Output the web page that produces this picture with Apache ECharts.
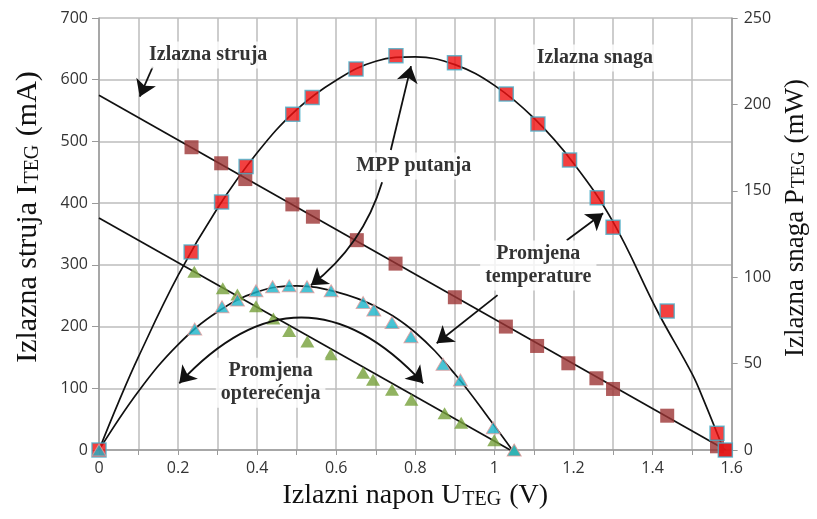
<!DOCTYPE html>
<html><head><meta charset="utf-8">
<script src="https://cdn.jsdelivr.net/npm/echarts@6/dist/echarts.min.js"></script>
<style>html,body{margin:0;padding:0;background:#fff}#c{width:817px;height:519px}</style>
</head><body><div id="c"></div><script>
// ---- data ----
// Output power, main case (right axis, mW) — red squares
const powerPts = [[0,0],[0.233,114.6],[0.31,143.5],[0.372,164],[0.49,194.3],[0.539,204],[0.65,220.5],[0.751,228.2],[0.899,224.1],[1.03,206],[1.11,188.7],[1.19,167.8],[1.26,146],[1.30,128.9],[1.437,80.4],[1.563,9.7],[1.584,0]];
// Fitted power curve (right axis, mW)
const powerFit = [[0,0],[0.05,28],[0.1,54],[0.2,101],[0.3,140],[0.4,172],[0.5,197],[0.6,214],[0.7,225],[0.8,227.5],[0.9,223],[1.0,211],[1.1,192],[1.2,166],[1.3,132],[1.413,80],[1.5,44],[1.529,29],[1.58,0]];
// Output current, main case (left axis, mA) — dark red squares
const currentPts = [[0.234,490.6],[0.309,464.6],[0.37,439],[0.489,398],[0.541,378],[0.652,340],[0.75,302],[0.9,247.5],[1.029,200],[1.108,168.6],[1.187,140.5],[1.258,116.2],[1.30,98.9],[1.437,55.6],[1.563,6],[1.584,0]];
const currentFit = [[0,575],[1.585,0]];
// Lower temperature case: current (left axis, mA) — green triangles
const current2Pts = [[0.241,289],[0.313,262],[0.35,252],[0.397,233],[0.441,213],[0.481,193],[0.527,176],[0.586,155],[0.668,125],[0.693,114],[0.741,97.5],[0.79,81.5],[0.874,59.4],[0.916,44],[0.9995,16],[1.05,0]];
const current2Fit = [[0,376],[1.04,0]];
// Lower temperature case: power (right axis, mW) — cyan triangles
const power2Pts = [[0,0],[0.242,70],[0.311,82.9],[0.35,86.8],[0.397,92.2],[0.439,94.5],[0.481,95.1],[0.526,94.5],[0.587,92.2],[0.668,85.3],[0.695,81],[0.741,73.7],[0.789,65.5],[0.87,49.6],[0.914,40.5],[0.997,12.9],[1.05,0]];
const power2Fit = [[0,0],[0.1,34],[0.2,61],[0.3,80],[0.4,91.5],[0.5,95],[0.6,91.5],[0.7,83],[0.8,68],[0.9,44],[1.0,14],[1.045,0]];

// tick settings
const xMin = 0, xMax = 1.6, xStep = 0.1;
const yLeftMin = 0, yLeftMax = 700, yLeftStep = 100;
const yRightMin = 0, yRightMax = 250, yRightStep = 50;

// annotation texts
const noteTexts = ['Izlazna struja', 'Izlazna snaga', 'MPP putanja', 'Promjena\ntemperature', 'Promjena\nopterećenja'];
</script>
<script>
// annotation anchors (left-axis data coordinates)
const notePos = [[0.276,640],[1.254,635],[0.796,460],[1.111,299],[0.434,109]];
const arrows = [
  {from:[0.136,621], to:[0.103,572.5], c:0},
  {from:[0.738,486], to:[0.789,622], c:0},
  {from:[0.716,434], to:[0.536,267], c:0.16},
  {from:[1.183,340], to:[1.275,383.6], c:0},
  {from:[1.008,251], to:[0.854,173], c:0}
];
const arcArrow = {from:[0.203,108], to:[0.820,108], c:0.54};

const chart = echarts.init(document.getElementById('c'), null, {renderer:'canvas'});
const serif = 'Liberation Serif';
const sans = 'Open Sans';
const gridColor = '#bcbcbc';
const axisColor = '#9a9a9a';
const lineBlack = '#111111';

function titleRich(size, sub) {
  return {
    fontFamily: serif, fontSize: size, color: '#111',
    rich: { s: { fontFamily: serif, fontSize: sub, color:'#111', verticalAlign:'bottom', padding:[0,1,0,1] } }
  };
}

const option = {
  animation: false,
  backgroundColor: '#fff',
  grid: { left: 99, right: 79, top: 18, bottom: 69, containLabel: false },
  xAxis: {
    type: 'value', min: xMin, max: xMax, interval: xStep,
    name: 'Izlazni napon U{s|TEG} (V)', nameLocation: 'middle', nameGap: 32,
    nameTextStyle: titleRich(28, 20),
    axisLine: { show: true, onZero: false, lineStyle: { color: axisColor, width: 1.5 } },
    axisTick: { show: true, length: 5, lineStyle: { color: axisColor } },
    axisLabel: {
      fontFamily: sans, fontSize: 16, color: '#333', margin: 10,
      formatter: v => { const k = Math.round(v*10); return k % 2 ? '' : String(k/10); }
    },
    splitLine: { show: true, lineStyle: { color: gridColor, width: 1.5 } }
  },
  yAxis: [{
    type: 'value', min: yLeftMin, max: yLeftMax, interval: yLeftStep, position: 'left',
    name: 'Izlazna struja I{s|TEG} (mA)', nameLocation: 'middle', nameGap: 56,
    nameTextStyle: Object.assign(titleRich(30, 20), { padding: [0,0,0,34] }),
    axisLine: { show: true, lineStyle: { color: axisColor, width: 1.5 } },
    axisTick: { show: true, length: 7, lineStyle: { color: axisColor } },
    axisLabel: { fontFamily: sans, fontSize: 16, color: '#333', margin: 11 },
    splitLine: { show: true, lineStyle: { color: gridColor, width: 1.5 } }
  }, {
    type: 'value', min: yRightMin, max: yRightMax, interval: yRightStep, position: 'right',
    name: 'Izlazna snaga P{s|TEG} (mW)', nameLocation: 'middle', nameGap: 50,
    nameTextStyle: Object.assign(titleRich(27, 19), { padding: [0,0,0,32] }),
    axisLine: { show: true, lineStyle: { color: axisColor, width: 1.5 } },
    axisTick: { show: true, length: 6, lineStyle: { color: axisColor } },
    axisLabel: { fontFamily: sans, fontSize: 16, color: '#333', margin: 12 },
    splitLine: { show: false }
  }],
  series: [
    { type:'line', name:'powerFit', yAxisIndex:1, data: powerFit, smooth: 0.4, showSymbol:false, symbol:'none',
      lineStyle:{ color: lineBlack, width: 1.7 }, silent:true, z:2 },
    { type:'line', name:'currentFit', yAxisIndex:0, data: currentFit, showSymbol:false, symbol:'none',
      lineStyle:{ color: lineBlack, width: 1.7 }, silent:true, z:2 },
    { type:'line', name:'current2Fit', yAxisIndex:0, data: current2Fit, showSymbol:false, symbol:'none',
      lineStyle:{ color: lineBlack, width: 1.7 }, silent:true, z:2 },
    { type:'line', name:'power2Fit', yAxisIndex:1, data: power2Fit, smooth: 0.4, showSymbol:false, symbol:'none',
      lineStyle:{ color: lineBlack, width: 1.7 }, silent:true, z:2 },
    { type:'scatter', name:'current', yAxisIndex:0, data: currentPts, symbol:'rect', symbolSize:14,
      itemStyle:{ color:'#9c3434' }, silent:true, z:3 },
    { type:'scatter', name:'power', yAxisIndex:1, data: powerPts, symbol:'rect', symbolSize:14,
      itemStyle:{ color:'#f01010', borderColor:'#4aaec8', borderWidth:1.5 }, silent:true, z:4 },
    { type:'scatter', name:'current2', yAxisIndex:0, data: current2Pts, symbol:'triangle', symbolSize:[14,12],
      itemStyle:{ color:'#76a03a' }, silent:true, z:5 },
    { type:'scatter', name:'power2', yAxisIndex:1, data: power2Pts, symbol:'triangle', symbolSize:[14,12],
      itemStyle:{ color:'#1ab4c9', borderColor:'#e59a9a', borderWidth:1 }, silent:true, z:6 },
    { type:'lines', coordinateSystem:'cartesian2d', xAxisIndex:0, yAxisIndex:0, silent:true, z:7,
      symbol:['none','arrow'], symbolSize:16,
      lineStyle:{ color: lineBlack, width: 1.8, opacity: 1 },
      data: arrows.map(a => ({ coords:[a.from, a.to], lineStyle:{ curveness: a.c } })) },
    { type:'lines', coordinateSystem:'cartesian2d', xAxisIndex:0, yAxisIndex:0, silent:true, z:7,
      symbol:['arrow','arrow'], symbolSize:16,
      lineStyle:{ color: lineBlack, width: 1.8, opacity: 1 },
      data: [{ coords:[arcArrow.from, arcArrow.to], lineStyle:{ curveness: arcArrow.c } }] },
    { type:'scatter', yAxisIndex:0, silent:true, z:8, symbolSize:0,
      data: notePos.map((p, i) => ({ value: p, name: noteTexts[i] })),
      label: { show:true, position:'inside', formatter: p => p.name,
        fontFamily: serif, fontWeight:'bold', fontSize:20, color:'#000', lineHeight:23,
        backgroundColor:'#fff', padding:[2,5] } }
  ]
};
chart.setOption(option);
</script></body></html>
